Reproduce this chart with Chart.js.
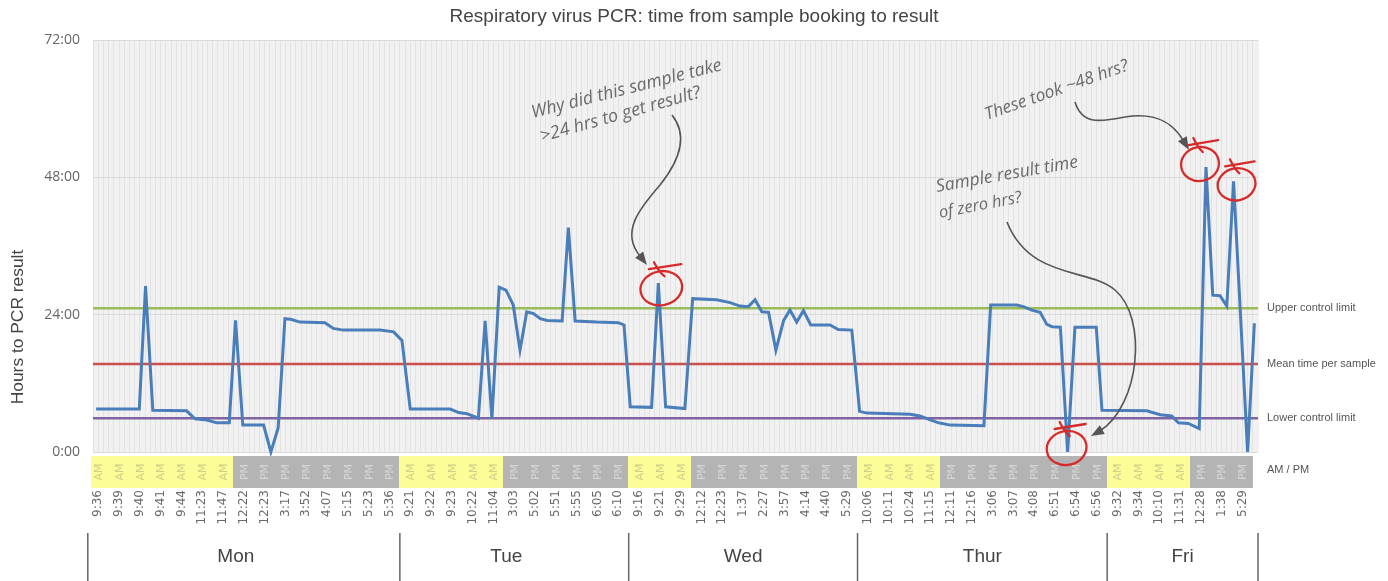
<!DOCTYPE html>
<html lang="en">
<head>
<meta charset="UTF-8">
<title>Respiratory virus PCR</title>
<script src="https://cdn.jsdelivr.net/npm/chart.js"></script>
<style>
    body { margin: 0; background: #fff; }
    .wrap { width: 1388px; height: 581px; }
</style>
</head>
<body>
<div class="wrap"><canvas id="pcrChart"></canvas></div>
<script>
    // booking times shown under the chart, one per 4 samples
    const tickLabels = [
        '9:36', '9:39', '9:40', '9:41', '9:44', '11:23', '11:47', '12:22', '12:23', '3:17', '3:52', '4:07', '5:15', '5:23', '5:36',
        '9:21', '9:22', '9:23', '10:22', '11:04', '3:03', '5:02', '5:51', '5:55', '6:05', '6:10',
        '9:16', '9:21', '9:29', '12:12', '12:23', '1:37', '2:27', '3:57', '4:14', '4:40', '5:29',
        '10:06', '10:11', '10:24', '11:15', '12:11', '12:16', '3:06', '3:07', '4:08', '6:51', '6:54', '6:56',
        '9:32', '9:34', '10:10', '11:31', '12:28', '1:38', '5:29'
    ];
    const period = [
        'AM', 'AM', 'AM', 'AM', 'AM', 'AM', 'AM', 'PM', 'PM', 'PM', 'PM', 'PM', 'PM', 'PM', 'PM',
        'AM', 'AM', 'AM', 'AM', 'AM', 'PM', 'PM', 'PM', 'PM', 'PM', 'PM',
        'AM', 'AM', 'AM', 'PM', 'PM', 'PM', 'PM', 'PM', 'PM', 'PM', 'PM',
        'AM', 'AM', 'AM', 'AM', 'PM', 'PM', 'PM', 'PM', 'PM', 'PM', 'PM', 'PM',
        'AM', 'AM', 'AM', 'AM', 'PM', 'PM', 'PM'
    ];
    const days = ['Mon', 'Tue', 'Wed', 'Thur', 'Fri'];
    const daySlots = [15, 11, 11, 12, 7];

    // sample position (4 per label) and hours from booking to result
    const samplePos = [
        0.6, 8.9, 10.1, 11.5, 18.0, 19.6, 21.9, 23.8, 26.2, 27.4, 28.8, 32.8, 34.2, 35.6, 36.9, 38.0, 39.8, 44.6, 46.2, 48.1, 55.2, 57.8, 59.4,
        61.0, 68.7, 70.3, 71.9, 74.1, 75.4, 76.7, 78.1, 79.4, 80.8, 82.1, 83.4, 84.7, 86.0, 87.3, 90.2, 91.4, 92.7, 96.9, 101.0, 102.1,
        103.3, 107.4, 108.7, 110.1, 113.8, 115.3, 119.9, 122.5, 124.4, 126.0, 127.3, 128.6, 129.9, 131.3, 132.8, 134.0, 135.3, 136.6, 138.0, 141.7, 143.3, 145.9,
        147.4, 148.8, 157.1, 159.0, 161.0, 162.6, 164.8, 171.3, 172.6, 177.6, 178.9, 180.5, 182.1, 183.4, 184.4, 186.0, 187.4, 188.8, 192.9, 194.0,
        202.6, 205.2, 207.4, 208.7, 210.6, 212.7, 214.0, 215.3, 216.7, 218.0, 219.3, 222.0, 223.3
    ];
    const hoursToResult = [
        7.5, 7.5, 29.0, 7.3, 7.2, 5.8, 5.6, 5.1, 5.1, 23.0, 4.7, 4.7, 0.0, 4.2, 23.3, 23.2, 22.7, 22.6, 21.6, 21.3, 21.3, 21.0, 19.5,
        7.5, 7.5, 6.9, 6.7, 5.9, 22.9, 5.8, 28.8, 28.3, 25.7, 17.8, 24.5, 24.2, 23.3, 23.0, 22.9, 39.2, 22.9, 22.7, 22.6, 22.2,
        7.9, 7.8, 29.5, 7.9, 7.6, 26.8, 26.6, 26.1, 25.5, 25.4, 26.6, 24.5, 24.4, 17.8, 23.0, 24.8, 22.7, 24.7, 22.2, 22.2, 21.4, 21.3,
        7.1, 6.8, 6.6, 6.3, 5.6, 5.1, 4.7, 4.6, 25.7, 25.7, 25.4, 24.8, 24.4, 22.3, 21.9, 21.8, 0.0, 21.8, 21.8, 7.3,
        7.2, 6.5, 6.3, 5.1, 5.0, 4.1, 49.8, 27.4, 27.3, 25.5, 47.3, 0.0, 22.5
    ];

    const limitNames = ['Upper control limit', 'Mean time per sample', 'Lower control limit'];
    const limitValues = [25.1, 15.4, 5.9];
    const limitColors = ['#9bbb59', '#c9504d', '#8064a2'];
    const yTicks = [0, 24, 48, 72];
    const totalSamples = 224;

    const lineData = samplePos.map((x, i) => ({ x: x, y: hoursToResult[i] }));

    const limitSets = limitNames.map((name, i) => ({
        label: name,
        data: [{ x: 0, y: limitValues[i] }, { x: totalSamples, y: limitValues[i] }],
        borderColor: limitColors[i],
        borderWidth: 2.5,
        pointRadius: 0,
        order: 2
    }));

    function fitFont(ctx, text, width, style, family) {
        ctx.font = style + ' 20px ' + family;
        const w = ctx.measureText(text).width;
        return style + ' ' + (20 * width / w).toFixed(1) + 'px ' + family;
    }

    function arrowHead(ctx, fx, fy, tx, ty) {
        const a = Math.atan2(ty - fy, tx - fx);
        ctx.beginPath();
        ctx.moveTo(tx, ty);
        ctx.lineTo(tx - 13 * Math.cos(a) + 5 * Math.sin(a), ty - 13 * Math.sin(a) - 5 * Math.cos(a));
        ctx.lineTo(tx - 13 * Math.cos(a) - 5 * Math.sin(a), ty - 13 * Math.sin(a) + 5 * Math.cos(a));
        ctx.closePath();
        ctx.fill();
    }

    function note(ctx, text, x, y, angle, width) {
        ctx.save();
        ctx.translate(x, y);
        ctx.rotate(angle * Math.PI / 180);
        ctx.font = fitFont(ctx, text, width, 'italic', '"Open Sans"');
        ctx.fillStyle = '#6a6a6a';
        ctx.textAlign = 'left';
        ctx.textBaseline = 'alphabetic';
        ctx.fillText(text, 0, 0);
        ctx.restore();
    }

    function redMark(ctx, cx, cy, rx, ry) {
        ctx.save();
        ctx.strokeStyle = '#d62b2b';
        ctx.lineWidth = 2.3;
        ctx.lineCap = 'round';
        ctx.beginPath();
        ctx.ellipse(cx, cy, rx, ry, -0.2, 0, Math.PI * 2);
        ctx.stroke();
        ctx.beginPath();
        ctx.moveTo(cx - rx * 0.6, cy - ry - 2);
        ctx.lineTo(cx + rx * 0.95, cy - ry - 7);
        ctx.moveTo(cx - rx * 0.35, cy - ry - 9);
        ctx.quadraticCurveTo(cx - rx * 0.1, cy - ry + 1, cx + rx * 0.15, cy - ry + 5);
        ctx.stroke();
        ctx.restore();
    }

    const extras = {
        id: 'extras',
        beforeDraw(chart) {
            const { ctx, chartArea: a } = chart;
            ctx.save();
            ctx.fillStyle = '#f1f1f1';
            ctx.fillRect(a.left, a.top, a.right - a.left, a.bottom - a.top);
            ctx.restore();
        },
        afterDraw(chart) {
            const { ctx, chartArea: a } = chart;
            const xs = chart.scales.x, ys = chart.scales.y;
            ctx.save();

            // title and y title
            ctx.fillStyle = '#444';
            ctx.textAlign = 'center';
            ctx.textBaseline = 'middle';
            ctx.font = '19px "Liberation Sans", Arial, sans-serif';
            ctx.fillText('Respiratory virus PCR: time from sample booking to result', 694, 17);
            ctx.save();
            ctx.translate(18, 327);
            ctx.rotate(-Math.PI / 2);
            ctx.font = fitFont(ctx, 'Hours to PCR result', 155, 'normal', '"Liberation Sans", Arial, sans-serif');
            ctx.fillText('Hours to PCR result', 0, 0);
            ctx.restore();

            // AM / PM band
            const bandTop = a.bottom + 4, bandH = 32;
            period.forEach((p, k) => {
                const x0 = Math.floor(Math.max(xs.getPixelForValue(4 * k - 1), a.left - 2));
                const x1 = Math.ceil(xs.getPixelForValue(4 * k + 3));
                ctx.fillStyle = p === 'AM' ? '#fdfd98' : '#b4b4b4';
                ctx.fillRect(x0, bandTop, x1 - x0, bandH);
            });
            period.forEach((p, k) => {
                ctx.save();
                ctx.translate(xs.getPixelForValue(4 * k + 1) + 1, bandTop + bandH / 2);
                ctx.rotate(-Math.PI / 2);
                ctx.fillStyle = p === 'AM' ? '#cfcf88' : '#d6d6d6';
                ctx.font = '11px "DejaVu Sans", sans-serif';
                ctx.textAlign = 'center';
                ctx.textBaseline = 'middle';
                ctx.fillText(p, 0, 0);
                ctx.restore();
            });

            // right hand labels
            ctx.fillStyle = '#555';
            ctx.textAlign = 'left';
            ctx.textBaseline = 'middle';
            ctx.font = '11px "Liberation Sans", Arial, sans-serif';
            limitNames.forEach((n, i) => ctx.fillText(n, a.right + 9, ys.getPixelForValue(limitValues[i])));
            ctx.fillText('AM / PM', a.right + 9, bandTop + bandH / 2 - 2);

            // day separators and names
            let slot = 0;
            ctx.strokeStyle = '#666';
            ctx.lineWidth = 1.5;
            const edges = [xs.getPixelForValue(-1)];
            daySlots.forEach(n => { slot += n; edges.push(xs.getPixelForValue(4 * slot - 1)); });
            edges[edges.length - 1] = a.right;
            edges.forEach(x => {
                ctx.beginPath();
                ctx.moveTo(x, 533);
                ctx.lineTo(x, 581);
                ctx.stroke();
            });
            ctx.fillStyle = '#444';
            ctx.textAlign = 'center';
            ctx.font = '19px "Liberation Sans", Arial, sans-serif';
            days.forEach((d, i) => ctx.fillText(d, (edges[i] + edges[i + 1]) / 2 - (i < 2 ? 8 : 0), 557));

            // notes
            note(ctx, 'Why did this sample take', 533, 118, -14.2, 196);
            note(ctx, '>24 hrs to get result?', 542, 142, -15.7, 166);
            note(ctx, 'These took ~48 hrs?', 987, 120, -19.3, 151);
            note(ctx, 'Sample result time', 937, 192, -10, 144);
            note(ctx, 'of zero hrs?', 940, 218, -11, 84);

            // arrows
            ctx.strokeStyle = '#555';
            ctx.fillStyle = '#555';
            ctx.lineWidth = 1.6;
            ctx.beginPath();
            ctx.moveTo(672, 115);
            ctx.bezierCurveTo(688, 135, 680, 160, 660, 185);
            ctx.bezierCurveTo(640, 208, 620, 232, 640, 256);
            ctx.stroke();
            arrowHead(ctx, 628, 240, 647, 265);

            ctx.beginPath();
            ctx.moveTo(1075, 102);
            ctx.bezierCurveTo(1082, 125, 1100, 122, 1125, 117);
            ctx.bezierCurveTo(1155, 112, 1172, 122, 1183, 140);
            ctx.stroke();
            arrowHead(ctx, 1176, 128, 1189, 150);

            ctx.beginPath();
            ctx.moveTo(1007, 222);
            ctx.bezierCurveTo(1030, 280, 1090, 268, 1115, 290);
            ctx.bezierCurveTo(1148, 318, 1140, 405, 1100, 431);
            ctx.stroke();
            arrowHead(ctx, 1112, 424, 1091, 436);

            // red marks around the odd samples
            const px = (i) => [xs.getPixelForValue(samplePos[i]), ys.getPixelForValue(hoursToResult[i])];
            const wed = hoursToResult.indexOf(29.5);
            const fri1 = hoursToResult.indexOf(49.8);
            const fri2 = hoursToResult.indexOf(47.3);
            const thu = samplePos.indexOf(187.4);
            let p = px(wed); redMark(ctx, p[0] + 3, p[1] + 5, 21, 17);
            p = px(fri1); redMark(ctx, p[0] - 6, p[1] - 3, 19, 17);
            p = px(fri2); redMark(ctx, p[0] + 3, p[1] + 3, 19, 16);
            p = px(thu); redMark(ctx, p[0] - 1, p[1] - 4, 20, 17);

            ctx.restore();
        }
    };

    const config = {
        type: 'line',
        data: {
            datasets: [
                {
                    label: 'Hours to PCR result',
                    data: lineData,
                    borderColor: '#4a7ebb',
                    borderWidth: 3,
                    pointRadius: 0,
                    tension: 0,
                    clip: 4,
                    order: 1
                },
                ...limitSets
            ]
        },
        options: {
            responsive: true,
            maintainAspectRatio: false,
            animation: false,
            layout: { padding: { top: 40, right: 130, bottom: 0, left: 38 } },
            plugins: {
                legend: { display: false },
                tooltip: { enabled: false }
            },
            scales: {
                x: {
                    type: 'linear',
                    min: 0,
                    max: totalSamples,
                    afterBuildTicks: s => { s.ticks = Array.from({ length: totalSamples + 1 }, (v, i) => ({ value: i })); },
                    afterFit: s => { s.height = 129; },
                    grid: { color: 'rgba(0,0,0,0.055)', drawTicks: false },
                    border: { display: false },
                    ticks: {
                        autoSkip: false,
                        maxRotation: 90,
                        minRotation: 90,
                        padding: 38,
                        color: '#6a6a6a',
                        font: { family: '"DejaVu Sans"', size: 12 },
                        callback: v => (v % 4 === 1 ? tickLabels[(v - 1) / 4] : '')
                    }
                },
                y: {
                    min: 0,
                    max: 72,
                    afterBuildTicks: s => { s.ticks = yTicks.map(v => ({ value: v })); },
                    afterFit: s => { s.width = 55; },
                    grid: { color: '#dadada', drawTicks: false },
                    border: { display: false },
                    ticks: {
                        padding: 13,
                        color: '#666',
                        font: { family: '"Open Sans"', size: 14 },
                        callback: v => v + ':00'
                    }
                }
            }
        },
        plugins: [extras]
    };

    const myChart = new Chart(document.getElementById('pcrChart'), config);
</script>
</body>
</html>
